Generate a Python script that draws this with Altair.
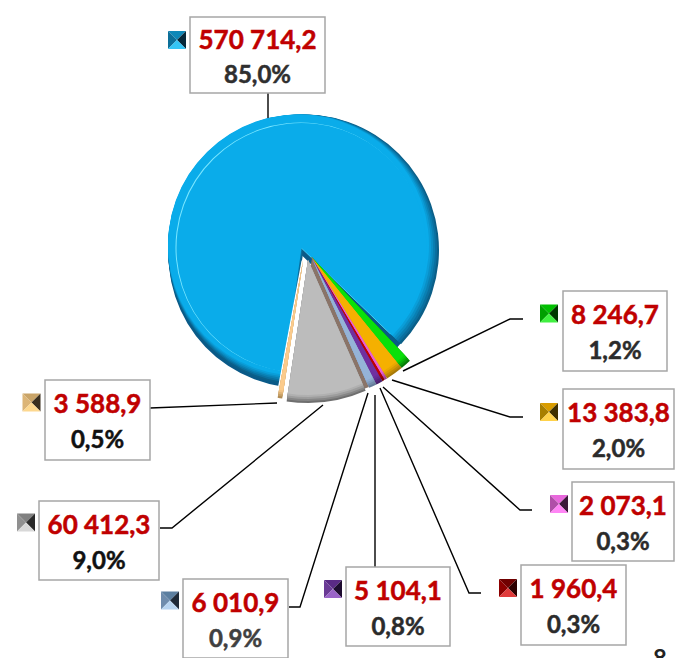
import math
import altair as alt
import pandas as pd
import numpy as np

# ---- data ----
names = ["green", "orange", "pink", "red", "purple", "steel", "gray", "tan", "blue"]
values = [8246.7, 13383.8, 2073.1, 1960.4, 5104.1, 6010.9, 60412.3, 3588.9, 570714.2]
value_labels = ["8 246,7", "13 383,8", "2 073,1", "1 960,4", "5 104,1", "6 010,9", "60 412,3", "3 588,9", "570 714,2"]
pct_labels = ["1,2%", "2,0%", "0,3%", "0,3%", "0,8%", "0,9%", "9,0%", "0,5%", "85,0%"]

# ---- styles ----
main_colors = ["#0ae00a", "#f5b000", "#e75fd6", "#c00000", "#7030a0", "#95b3d7", "#bcbcbc", "#fbcb8c", "#05a8e6"]
rim_colors = ["#067a06", "#a87a08", "#9c3f90", "#7c0000", "#4a1f6c", "#647b98", "#6f6f6f", "#b08c55", "#07587f"]
pct_colors = ["#2b2b2b", "#2b2b2b", "#2b2b2b", "#2b2b2b", "#2b2b2b", "#404040", "#111111", "#111111", "#2f2f2f"]
face_top = ["#00c000", "#d89c00", "#e868dc", "#700000", "#5a2a85", "#5c7fa0", "#808080", "#c9a468", "#0f88b8"]
face_left = ["#00a000", "#a87f00", "#b04fa8", "#8c0000", "#6a3a95", "#6f8cac", "#909090", "#dcb577", "#0c6f99"]
face_right = ["#003800", "#3f3000", "#3c1a3a", "#2d0000", "#1e0c30", "#1f2a38", "#2a2a2a", "#3a2f1f", "#06283a"]
face_bottom = ["#40f040", "#ffd24a", "#ff85f5", "#e03a3a", "#9a64c8", "#b8d4f0", "#d8d8d8", "#fdd88f", "#35c5f5"]

# ---- layout (image pixels) ----
box_x0 = [563, 563, 572, 521, 346, 183, 39, 45, 190]
box_x1 = [667, 674, 674, 626, 450, 288, 159, 150, 325]
box_y0 = [291, 389, 482, 565, 567, 579, 501, 380, 17]
box_y1 = [371, 469, 561, 645, 646, 658, 580, 460, 93]
val_y = [324, 422, 515, 598, 600, 612, 534, 413, 49]
pct_y = [359, 457, 550, 633, 635, 647, 569, 448, 83]
mark_x = [549, 549, 559, 508, 333, 170, 26, 31.5, 177]
mark_y = [313.5, 412, 504, 588, 589, 600.5, 522.5, 402.5, 40]
leader_x = [[403, 510, 523], [392, 510, 523], [383, 520, 532], [380, 469, 481],
            [375, 375], [368, 300, 289], [323, 172, 160], [277, 150], [268, 268]]
leader_y = [[371, 319, 319], [380, 417, 417], [387, 510, 510], [388, 593, 593],
            [395, 567], [393, 607, 607], [405, 528, 528], [403, 408], [93, 118]]
centers = {"blue": (303.5, 250.0), "gray": (308.0, 260.0), "tan": (303.0, 261.0)}
FRONT_C = (311.5, 257.0)

START_DEG = 136.5
BLUE_TURN = -2.5
total = sum(values)
ends = np.cumsum(values)
starts = ends - np.array(values)


def mix(a, b, f):
    ca = [int(a[i:i + 2], 16) for i in (1, 3, 5)]
    cb = [int(b[i:i + 2], 16) for i in (1, 3, 5)]
    return "#%02x%02x%02x" % tuple(round(x + (y - x) * f) for x, y in zip(ca, cb))


rows = []
for i, n in enumerate(names):
    cx, cy = centers.get(n, FRONT_C)
    turn = BLUE_TURN / 360 * total if n == "blue" else 0.0
    rows.append(dict(name=n, t0=float(starts[i]) + turn, t1=float(ends[i]) + turn, cx=cx, cy=cy,
                     main=main_colors[i], rim=rim_colors[i]))
slices = pd.DataFrame(rows)
labels = pd.DataFrame(dict(name=names, val=value_labels, pct=pct_labels, x0=box_x0, x1=box_x1,
                           y0=box_y0, y1=box_y1, vy=val_y, py=pct_y,
                           mx=mark_x, my=mark_y, pc=pct_colors,
                           top=face_top, left=face_left, right=face_right, bottom=face_bottom))
labels["tx"] = (labels.x0 + labels.x1) / 2
leaders = pd.DataFrame([dict(name=names[i], k=k, x=x, y=y)
                        for i in range(len(names))
                        for k, (x, y) in enumerate(zip(leader_x[i], leader_y[i]))])

X = alt.Scale(domain=[8, 675], range=[0, 667], nice=False, zero=False)
Y = alt.Scale(domain=[8, 658], range=[0, 650], nice=False, zero=False)
a0 = math.radians(START_DEG)
TH = alt.Scale(domain=[0, total], range=[a0, a0 + 2 * math.pi])


def arc(df, r, color_value=None, field=None, dx=0, dy=0, **kw):
    d = df.copy()
    d["cx"] = d.cx + dx
    d["cy"] = d.cy + dy
    enc = dict(
        x=alt.X("cx:Q", scale=X, axis=None),
        y=alt.Y("cy:Q", scale=Y, axis=None),
        theta=alt.Theta("t0:Q", scale=TH, stack=None),
        theta2=alt.Theta2("t1:Q"),
    )
    if field:
        enc["color"] = alt.Color(field + ":N", scale=None, legend=None)
    else:
        enc["color"] = alt.value(color_value)
    return alt.Chart(d).mark_arc(outerRadius=r, **kw).encode(**enc)


def rings(df, rmax=143):
    out = []
    for k, f in [(0, 1.0), (2, 0.7), (4, 0.4), (6, 0.15), (8, 0.0)]:
        d = df.copy()
        d["ring"] = [mix(m, c, f) for m, c in zip(d.main, d.rim)]
        out.append(arc(d, rmax - k, field="ring"))
    return out


blue = slices[slices.name == "blue"]
gray_only = slices[slices.name == "gray"]
tan_only = slices[slices.name == "tan"]
front = slices[~slices.name.isin(["blue", "gray", "tan"])]

layers = [
    arc(blue, 133, "#0a5a88", dx=-2, dy=5),       # wall seen in the gap
    arc(blue, 135.5, "#0b5f88"),                  # crescents, dark to light
    arc(blue, 134.5, "#0a6f9f", dx=-1, dy=-1),
    arc(blue, 133.5, "#0a7fb2", dx=-2, dy=-2),
    arc(blue, 132.5, "#0a8fc6", dx=-3, dy=-3),
    arc(blue, 131.5, "#0a9ed9", dx=-4, dy=-4),
    arc(blue, 130.5, "#0aacea", dx=-5, dy=-5),
    arc(blue, 125, "#7ae6ff", dx=-3, dy=-2.5),    # thin highlight
    arc(blue, 125, "#0aacea", dx=-2, dy=-2.1),
]
layers.append(arc(gray_only, 141, "#8a7468", dx=4, dy=-2))
layers += rings(front)
layers += rings(gray_only)
layers.append(arc(tan_only, 139, "#ffffff", stroke="#ffffff", strokeWidth=3))
layers += rings(tan_only, rmax=139)

# leader lines
layers.append(alt.Chart(leaders).mark_line(color="#000000", strokeWidth=1.4).encode(
    x=alt.X("x:Q", scale=X, axis=None), y=alt.Y("y:Q", scale=Y, axis=None),
    detail="name:N", order="k:Q"))

# boxes
layers.append(alt.Chart(labels).mark_rect(fill="#ffffff", stroke="#a6a6a6", strokeWidth=1.5).encode(
    x=alt.X("x0:Q", scale=X, axis=None), x2="x1:Q",
    y=alt.Y("y0:Q", scale=Y, axis=None), y2="y1:Q"))

# label texts
layers.append(alt.Chart(labels).mark_text(font="Lato", fontWeight="bold", fontSize=26, color="#c00000",
                                          stroke="#c00000", strokeWidth=0.5,
                                          align="center", baseline="alphabetic").encode(
    x=alt.X("tx:Q", scale=X, axis=None), y=alt.Y("vy:Q", scale=Y, axis=None), text="val:N"))
layers.append(alt.Chart(labels).mark_text(font="Lato", fontWeight="bold", fontSize=24, strokeWidth=0.5,
                                          align="center", baseline="alphabetic").encode(
    x=alt.X("tx:Q", scale=X, axis=None), y=alt.Y("py:Q", scale=Y, axis=None), text="pct:N",
    color=alt.Color("pc:N", scale=None, legend=None),
    stroke=alt.Stroke("pc:N", scale=None, legend=None)))

# pyramid legend keys
faces = {"top": "M-1,-1L1,-1L0,0Z", "left": "M-1,-1L0,0L-1,1Z",
         "right": "M1,-1L1,1L0,0Z", "bottom": "M-1,1L0,0L1,1Z"}
for face, path in faces.items():
    layers.append(alt.Chart(labels).mark_point(filled=True, opacity=1, size=324, strokeWidth=0).encode(
        x=alt.X("mx:Q", scale=X, axis=None), y=alt.Y("my:Q", scale=Y, axis=None),
        shape=alt.value(path),
        color=alt.Color(face + ":N", scale=None, legend=None)))

# page number, cut by the page edge
page = pd.DataFrame(dict(x=[660], y=[667], t=["8"]))
layers.append(alt.Chart(page).mark_text(font="Lato", fontWeight="bold", fontSize=24, color="#222222",
                                        align="center", baseline="alphabetic").encode(
    x=alt.X("x:Q", scale=X, axis=None), y=alt.Y("y:Q", scale=Y, axis=None), text="t:N"))

chart = alt.layer(*layers).properties(width=667, height=650, padding=0, background="#ffffff",
                                      autosize=alt.AutoSizeParams(type="none")).configure_view(stroke=None, clip=False)
chart.save("out.html", embed_options={"renderer": "svg", "actions": False})
